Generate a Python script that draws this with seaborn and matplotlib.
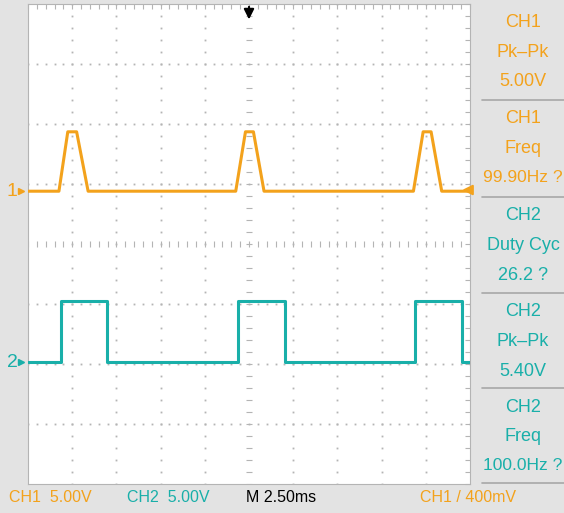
import numpy as np
import pandas as pd
import seaborn as sns
import matplotlib.pyplot as plt

sns.set_style("white")
plt.rcParams['font.family'] = ['Liberation Sans', 'DejaVu Sans']

# time in ms (2.50 ms/div), volts (5.00 V/div)
ch1_t = [-12.5, -10.75, -10.25, -9.75, -9.1, -0.75, -0.2, 0.25, 0.85, 9.3, 9.85, 10.3, 10.9, 12.5]
ch1_v = [0.0, 0.0, 4.95, 4.95, 0.0, 0.0, 4.95, 4.95, 0.0, 0.0, 4.95, 4.95, 0.0, 0.0]
ch2_t = [-12.5, -10.62, -10.62, -8.03, -8.03, -0.62, -0.62, 2.03, 2.03, 9.38, 9.38, 12.02, 12.02, 12.5]
ch2_v = [0.0, 0.0, 5.1, 5.1, 0.0, 0.0, 5.1, 5.1, 0.0, 0.0, 5.1, 5.1, 0.0, 0.0]
ch1_pos = 0.88   # ground marker, divisions
ch2_pos = -1.97
volts_div = 5.0

meas_labels = [["CH1", "Pk\u2013Pk", "5.00V"],
               ["CH1", "Freq", "99.90Hz ?"],
               ["CH2", "Duty Cyc", "26.2 ?"],
               ["CH2", "Pk\u2013Pk", "5.40V"],
               ["CH2", "Freq", "100.0Hz ?"]]
meas_ch = [1, 1, 2, 2, 2]
status = ["CH1  5.00V", "CH2  5.00V", "M 2.50ms", "CH1 / 400mV"]

orange = "#F3A21C"
teal = "#19AFA9"
panel = "#E3E3E3"
gridc = "#B4B4B4"

W, H = 564, 513
fig = plt.figure(figsize=(W / 100, H / 100), dpi=100, facecolor=panel)
ax = fig.add_axes([28 / W, 29 / H, 442 / W, 480 / H])
ax.set_facecolor("white")

df1 = pd.DataFrame({"t": ch1_t, "y": np.array(ch1_v) / volts_div + ch1_pos})
df2 = pd.DataFrame({"t": ch2_t, "y": np.array(ch2_v) / volts_div + ch2_pos})
sns.lineplot(data=df1, x="t", y="y", estimator=None, sort=False, color=orange, lw=2.2, ax=ax, zorder=5)
sns.lineplot(data=df2, x="t", y="y", estimator=None, sort=False, color=teal, lw=2.2, ax=ax, zorder=5)

ax.set_xlim(-12.5, 12.5)
ax.set_ylim(-4, 4)
ax.set_xlabel("")
ax.set_ylabel("")

# graticule: dotted lines every division, crosshair ticks in the centre
xs = np.linspace(-12.5, 12.5, 51)
ys = np.linspace(-4, 4, 41)
for gx in np.linspace(-12.5, 12.5, 11)[1:-1]:
    if abs(gx) > 1e-9:
        ax.plot(np.full_like(ys, gx), ys, ls="none", marker="s", ms=1.3, mew=0, color=gridc, zorder=1)
for gy in range(-3, 4):
    if gy != 0:
        ax.plot(xs, np.full_like(xs, gy), ls="none", marker="s", ms=1.3, mew=0, color=gridc, zorder=1)
ax.plot(xs, np.zeros_like(xs), ls="none", marker="|", ms=4, mew=0.8, color=gridc, zorder=1)
ax.plot(np.zeros_like(ys), ys, ls="none", marker="_", ms=4, mew=0.8, color=gridc, zorder=1)

ax.set_xticks(np.linspace(-12.5, 12.5, 51))
ax.set_yticks(np.linspace(-4, 4, 41))
ax.tick_params(direction="in", length=3.5, width=0.8, color=gridc,
               top=True, right=True, labelbottom=False, labelleft=False)
for s in ax.spines.values():
    s.set_color(gridc)
    s.set_linewidth(0.8)

# channel ground markers
ytr = ax.get_yaxis_transform()
for pos, lab, c in [(ch1_pos, "1", orange), (ch2_pos, "2", teal)]:
    ax.text(-0.036, pos, lab, transform=ytr, color=c, fontsize=14, ha="center", va="center", clip_on=False)
    ax.plot([-0.016], [pos], transform=ytr, marker=">", ms=5, color=c, clip_on=False)

# trigger position and level
ax.annotate("", xy=(0, 0.962), xytext=(0, 1.0), xycoords=ax.get_xaxis_transform(),
            arrowprops=dict(arrowstyle="-|>,head_width=0.3,head_length=0.6", color="black", lw=1.5))
ax.annotate("", xy=(0.976, ch1_pos + 0.02), xytext=(1.0, ch1_pos + 0.02), xycoords=ytr,
            arrowprops=dict(arrowstyle="-|>,head_width=0.3,head_length=0.6", color=orange, lw=1.5))

# measurement panel
box_edges = [4, 100, 197, 293, 388, 483]
for e in box_edges[1:]:
    fig.add_artist(plt.Line2D([482 / W, 1], [1 - e / H] * 2, color="#A8A8A8", lw=1.2))
for i, (lines, ch) in enumerate(zip(meas_labels, meas_ch)):
    c = orange if ch == 1 else teal
    top = box_edges[i]
    for j, txt in enumerate(lines):
        fs = 12.5 if "Hz" in txt else 13
        fig.text(523 / W, 1 - (top + 19 + 29.5 * j) / H, txt, color=c, fontsize=fs,
                 ha="center", va="center")

# status bar
for txt, x, c in zip(status, [9, 127, 246, 420], [orange, teal, "black", orange]):
    fig.text(x / W, 1 - 497 / H, txt, color=c, fontsize=11.5, ha="left", va="center")

plt.savefig("out.png", dpi=100, facecolor=panel)
